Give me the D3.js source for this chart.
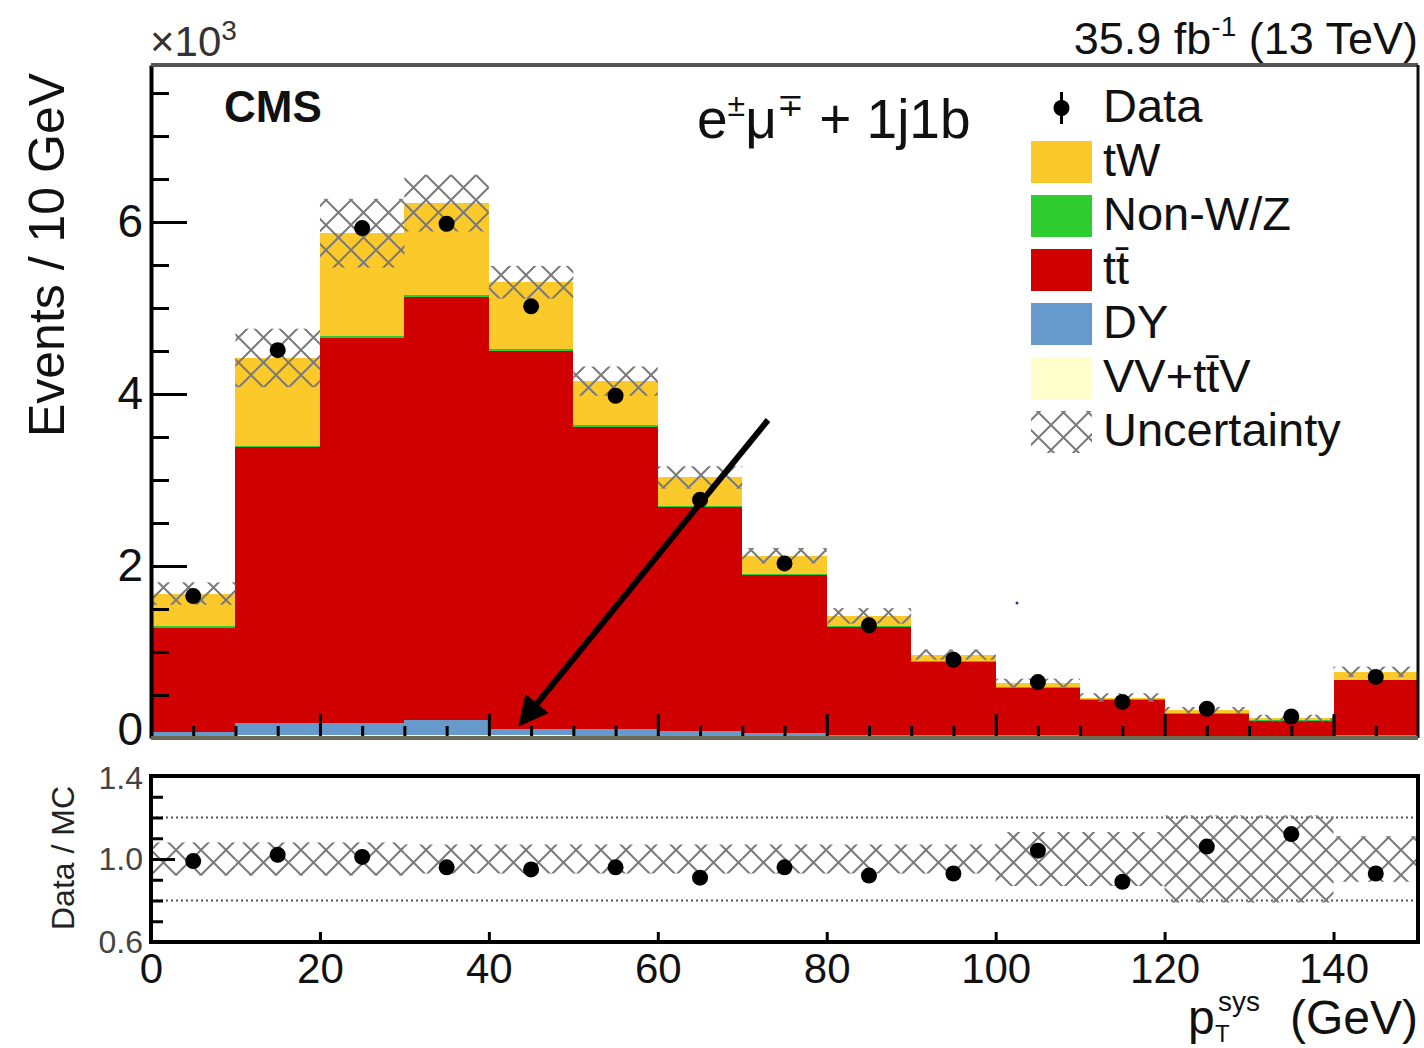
<!DOCTYPE html>
<html>
<head>
<meta charset="utf-8">
<script src="https://cdn.jsdelivr.net/npm/d3@7"></script>
<style>
  html, body { margin: 0; padding: 0; background: #fff; }
  svg { display: block; font-family: "Liberation Sans", Arial, sans-serif; }
</style>
</head>
<body>
<svg id="chart" width="1424" height="1048"></svg>
<script>
// ---------------- data (events per 10 GeV bin) ----------------
const binLo = [0, 10, 20, 30, 40, 50, 60, 70, 80, 90, 100, 110, 120, 130, 140];
const binWidth = 10;
const dataCounts = [1650, 4510, 5930, 5980, 5020, 3980, 2770, 2030, 1310, 910, 650, 420, 340, 250, 710];
const vvttv = [20, 30, 30, 30, 30, 20, 20, 20, 10, 10, 10, 10, 10, 10, 20];
const dy    = [50, 150, 150, 180, 80, 90, 60, 40, 30, 20, 20, 10, 10, 10, 20];
const ttbar = [1210, 3200, 4470, 4920, 4390, 3510, 2610, 1840, 1250, 850, 550, 420, 260, 180, 630];
const nonWZ = [20, 20, 20, 20, 20, 20, 10, 10, 10, 10, 10, 10, 10, 10, 10];
const tW    = [380, 1020, 1200, 1070, 780, 510, 330, 210, 120, 80, 50, 20, 30, 20, 90];
const mcUnc = [130, 340, 400, 330, 190, 170, 130, 90, 90, 60, 50, 50, 40, 40, 60];
const ratio    = [0.99, 1.02, 1.01, 0.96, 0.95, 0.96, 0.91, 0.96, 0.92, 0.93, 1.04, 0.89, 1.06, 1.12, 0.93];
const ratioUnc = [0.08, 0.08, 0.08, 0.07, 0.07, 0.07, 0.07, 0.07, 0.07, 0.07, 0.13, 0.13, 0.21, 0.21, 0.11];

const xTicks = [0, 20, 40, 60, 80, 100, 120, 140];
const yTicks = [0, 2000, 4000, 6000];
const ratioTicks = [0.6, 1.0, 1.4];
const ratioLines = [0.8, 1.2];

const seriesKeys = ["vvttv", "dy", "ttbar", "nonWZ", "tW"];
const seriesColor = { tW: "#fcc92a", nonWZ: "#2ecc2e", ttbar: "#d00000", dy: "#6699cc", vvttv: "#ffffcc" };
const legendItems = [
  { key: "data", label: "Data" },
  { key: "tW", label: "tW" },
  { key: "nonWZ", label: "Non-W/Z" },
  { key: "ttbar", label: "tt\u0304" },
  { key: "dy", label: "DY" },
  { key: "vvttv", label: "VV+tt\u0304V" },
  { key: "unc", label: "Uncertainty" }
];

// ---------------- build table ----------------
const table = binLo.map((lo, i) => ({
  lo, hi: lo + binWidth,
  vvttv: vvttv[i], dy: dy[i], ttbar: ttbar[i], nonWZ: nonWZ[i], tW: tW[i],
  data: dataCounts[i], unc: mcUnc[i], ratio: ratio[i], runc: ratioUnc[i]
}));
table.forEach(d => { d.total = seriesKeys.reduce((s, k) => s + d[k], 0); });

// ---------------- layout ----------------
const svg = d3.select("#chart");
const L = 151, R = 1418;
const mainTop = 65, mainBot = 738;
const rTop = 776, rBot = 942;

const x = d3.scaleLinear().domain([0, 150]).range([L, R]);
const y = d3.scaleLinear().domain([0, 7826]).range([mainBot, mainTop]);
const yr = d3.scaleLinear().domain([0.6, 1.4]).range([rBot, rTop]);

// hatch pattern
const defs = svg.append("defs");
const pat = defs.append("pattern").attr("id", "hatch")
  .attr("patternUnits", "userSpaceOnUse").attr("width", 25).attr("height", 25)
  .attr("x", L).attr("y", 0);
pat.append("path").attr("d", "M0,0 L25,25 M25,0 L0,25 M-5,20 L5,30 M20,-5 L30,5 M-5,5 L5,-5 M20,30 L30,20")
  .attr("stroke", "#7a7a7a").attr("stroke-width", 2).attr("fill", "none");

defs.append("marker").attr("id", "arrowhead")
  .attr("viewBox", "0 0 10 10").attr("refX", 8).attr("refY", 5)
  .attr("markerWidth", 5).attr("markerHeight", 5).attr("orient", "auto")
  .append("path").attr("d", "M0,0 L10,5 L0,10 Z").attr("fill", "#000");

// ---------------- main panel ----------------
const stack = d3.stack().keys(seriesKeys)(table);
const gStack = svg.append("g");
stack.forEach(layer => {
  gStack.selectAll(null).data(layer).enter().append("rect")
    .attr("x", d => x(d.data.lo))
    .attr("width", d => x(d.data.hi) - x(d.data.lo))
    .attr("y", d => y(d[1]))
    .attr("height", d => Math.max(0, y(d[0]) - y(d[1])))
    .attr("fill", seriesColor[layer.key])
    .attr("shape-rendering", "crispEdges");
});

// uncertainty band
svg.append("g").selectAll("rect").data(table).enter().append("rect")
  .attr("x", d => x(d.lo))
  .attr("width", d => x(d.hi) - x(d.lo))
  .attr("y", d => y(d.total + d.unc))
  .attr("height", d => y(d.total - d.unc) - y(d.total + d.unc))
  .attr("fill", "url(#hatch)");

// data points
svg.append("g").selectAll("circle").data(table).enter().append("circle")
  .attr("cx", d => x(d.lo + binWidth / 2))
  .attr("cy", d => y(d.data))
  .attr("r", 8).attr("fill", "#000");

// axes main
const yMajor = d3.axisLeft(y).tickValues(yTicks).tickFormat(d => d / 1000)
  .tickSize(-36).tickSizeOuter(0).tickPadding(8);
const gy = svg.append("g").attr("transform", `translate(${L},0)`).call(yMajor);
const yMinorVals = d3.range(500, 7826, 500).filter(v => v % 2000 !== 0);
svg.append("g").attr("transform", `translate(${L},0)`)
  .call(d3.axisLeft(y).tickValues(yMinorVals).tickFormat("").tickSize(-18).tickSizeOuter(0))
  .select(".domain").remove();
gy.selectAll("text").attr("font-size", 46).attr("fill", "#111").attr("font-family", "Liberation Sans, Arial, sans-serif");
gy.selectAll(".tick").filter(d => d === 0).select("text").attr("dy", "0.15em");

const xMinorMain = d3.range(5, 150, 5).filter(v => v % 20 !== 0);
svg.append("g").attr("transform", `translate(0,${mainBot})`)
  .call(d3.axisBottom(x).tickValues(xMinorMain).tickFormat("").tickSize(-12).tickSizeOuter(0))
  .select(".domain").remove();
svg.append("g").attr("transform", `translate(0,${mainBot})`)
  .call(d3.axisBottom(x).tickValues(xTicks.slice(1)).tickFormat("").tickSize(-24).tickSizeOuter(0))
  .select(".domain").remove();

svg.selectAll(".tick line").attr("stroke", "#000").attr("stroke-width", 3);
gy.select(".domain").attr("stroke", "#000").attr("stroke-width", 4);

// frame lines
svg.append("line").attr("x1", L).attr("x2", R).attr("y1", mainTop).attr("y2", mainTop)
  .attr("stroke", "#555").attr("stroke-width", 4);
svg.append("line").attr("x1", R).attr("x2", R).attr("y1", mainTop).attr("y2", mainBot)
  .attr("stroke", "#111").attr("stroke-width", 3);
svg.append("line").attr("x1", L).attr("x2", R).attr("y1", mainBot).attr("y2", mainBot)
  .attr("stroke", "#6b6b55").attr("stroke-width", 4);

// ---------------- ratio panel ----------------
svg.append("g").selectAll("line").data(ratioLines).enter().append("line")
  .attr("x1", L).attr("x2", R).attr("y1", d => yr(d)).attr("y2", d => yr(d))
  .attr("stroke", "#555").attr("stroke-width", 2).attr("stroke-dasharray", "2,3");

svg.append("g").selectAll("rect").data(table).enter().append("rect")
  .attr("x", d => x(d.lo))
  .attr("width", d => x(d.hi) - x(d.lo))
  .attr("y", d => yr(1 + d.runc))
  .attr("height", d => yr(1 - d.runc) - yr(1 + d.runc))
  .attr("fill", "url(#hatch)");

svg.append("g").selectAll("circle").data(table).enter().append("circle")
  .attr("cx", d => x(d.lo + binWidth / 2))
  .attr("cy", d => yr(d.ratio))
  .attr("r", 8).attr("fill", "#000");

const gyr = svg.append("g").attr("transform", `translate(${L},0)`)
  .call(d3.axisLeft(yr).tickValues(ratioTicks).tickFormat(d3.format(".1f")).tickSize(-24).tickSizeOuter(0).tickPadding(8));
gyr.select(".domain").remove();
gyr.selectAll("text").attr("font-size", 32).attr("fill", "#444").attr("font-family", "Liberation Sans, Arial, sans-serif");
gyr.selectAll(".tick").filter(d => d === 1.4).select("text").attr("dy", "0.4em");
svg.append("g").attr("transform", `translate(${L},0)`)
  .call(d3.axisLeft(yr).tickValues([0.7, 0.8, 0.9, 1.1, 1.2, 1.3]).tickFormat("").tickSize(-12).tickSizeOuter(0))
  .select(".domain").remove();

const gxr = svg.append("g").attr("transform", `translate(0,${rBot})`)
  .call(d3.axisBottom(x).tickValues(xTicks).tickFormat(d => d).tickSize(-10).tickSizeOuter(0).tickPadding(11));
gxr.select(".domain").remove();
gxr.selectAll("text").attr("font-size", 42).attr("fill", "#111").attr("font-family", "Liberation Sans, Arial, sans-serif");

svg.selectAll(".tick line").attr("stroke", "#000").attr("stroke-width", 3);

svg.append("rect").attr("x", L).attr("y", rTop).attr("width", R - L).attr("height", rBot - rTop)
  .attr("fill", "none").attr("stroke", "#000").attr("stroke-width", 4);

// ---------------- texts ----------------
const t1 = svg.append("text").attr("x", 150).attr("y", 56).attr("font-size", 42).attr("fill", "#333");
t1.append("tspan").text("\u00d710");
t1.append("tspan").attr("font-size", 28).attr("dy", -16).text("3");

const lumi = svg.append("text").attr("x", R).attr("y", 54).attr("text-anchor", "end").attr("font-size", 45).attr("fill", "#111");
lumi.append("tspan").text("35.9 fb");
lumi.append("tspan").attr("font-size", 28).attr("dy", -18).text("-1");
lumi.append("tspan").attr("dy", 18).text(" (13 TeV)");

svg.append("text").attr("x", 224).attr("y", 122).attr("font-size", 44).attr("font-weight", "bold").attr("fill", "#111").text("CMS");

const chan = svg.append("text").attr("x", 697).attr("y", 138).attr("font-size", 55).attr("fill", "#111");
chan.append("tspan").text("e");
chan.append("tspan").attr("font-size", 32).attr("dy", -22).text("\u00b1");
chan.append("tspan").attr("dy", 22).text("\u03bc");
chan.append("tspan").attr("font-size", 32).attr("dy", -22).text("\u2213");
chan.append("tspan").attr("dy", 22).text(" + 1j1b");

svg.append("text").attr("transform", "translate(64,255) rotate(-90)").attr("text-anchor", "middle")
  .attr("font-size", 50).attr("fill", "#111").text("Events / 10 GeV");

svg.append("text").attr("transform", "translate(74,858) rotate(-90)").attr("text-anchor", "middle")
  .attr("font-size", 32).attr("fill", "#222").text("Data / MC");

// x title
svg.append("text").attr("x", R).attr("y", 1034).attr("text-anchor", "end").attr("font-size", 48).attr("fill", "#111").text("(GeV)");
svg.append("text").attr("x", 1188).attr("y", 1034).attr("font-size", 48).attr("fill", "#111").text("p");
svg.append("text").attr("x", 1218).attr("y", 1011).attr("font-size", 28).attr("fill", "#111").text("sys");
svg.append("text").attr("x", 1215).attr("y", 1042).attr("font-size", 24).attr("fill", "#111").text("T");

// ---------------- legend ----------------
const lg = svg.append("g");
const legX = 1031, legW = 61, legH = 42, legY0 = 108, legStep = 54;
legendItems.forEach((it, i) => {
  const cy = legY0 + i * legStep;
  if (it.key === "data") {
    lg.append("line").attr("x1", legX + legW / 2).attr("x2", legX + legW / 2).attr("y1", cy - 16).attr("y2", cy + 16)
      .attr("stroke", "#000").attr("stroke-width", 3);
    lg.append("circle").attr("cx", legX + legW / 2).attr("cy", cy).attr("r", 8).attr("fill", "#000");
  } else if (it.key === "unc") {
    lg.append("rect").attr("x", legX).attr("y", cy - legH / 2).attr("width", legW).attr("height", legH)
      .attr("fill", "url(#hatch)");
  } else {
    lg.append("rect").attr("x", legX).attr("y", cy - legH / 2).attr("width", legW).attr("height", legH)
      .attr("fill", seriesColor[it.key]);
  }
  lg.append("text").attr("x", 1103).attr("y", cy + 14).attr("font-size", 47).attr("fill", "#111").text(it.label);
});

// ---------------- annotation arrow ----------------
svg.append("line").attr("x1", 768).attr("y1", 420).attr("x2", 522).attr("y2", 722)
  .attr("stroke", "#000").attr("stroke-width", 6).attr("marker-end", "url(#arrowhead)");
svg.append("circle").attr("cx", 1017).attr("cy", 603).attr("r", 1.5).attr("fill", "#2a2aa8");
</script>
</body>
</html>
